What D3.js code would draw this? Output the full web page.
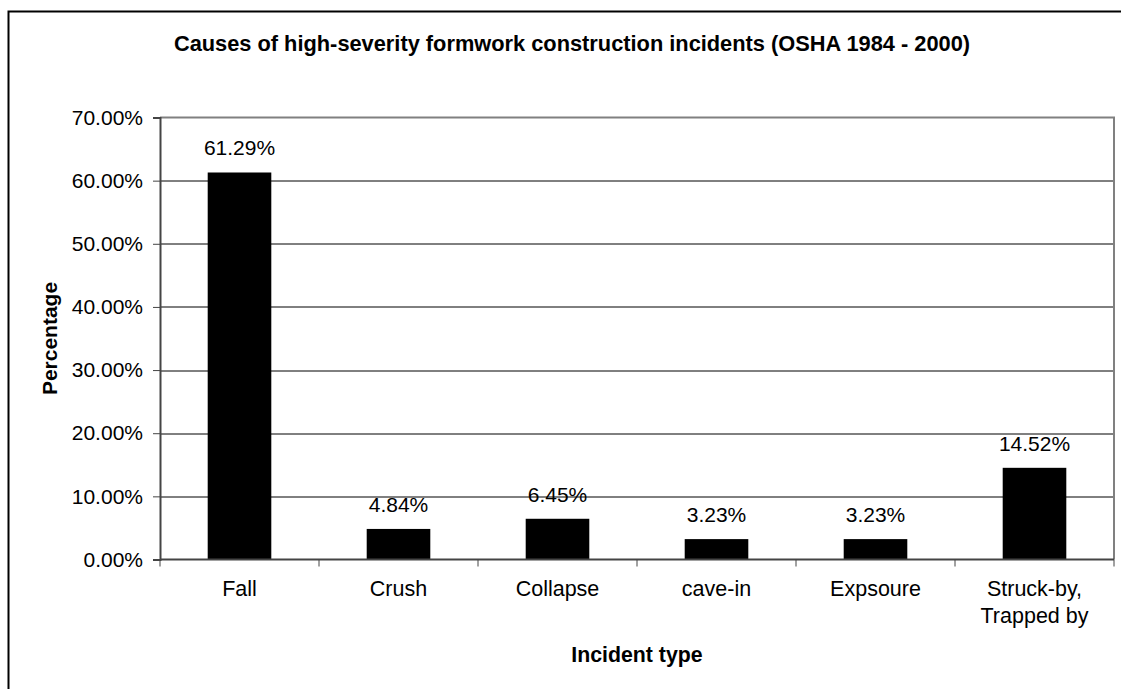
<!DOCTYPE html>
<html>
<head>
<meta charset="utf-8">
<script src="https://cdn.jsdelivr.net/npm/d3@7"></script>
<style>
  body { margin: 0; background: #fff; }
  svg text { font-family: "Liberation Sans", Arial, sans-serif; fill: #000; }
</style>
</head>
<body>
<div id="chart"></div>
<script>
(function () {

    const categories = ['Fall', 'Crush', 'Collapse', 'cave-in', 'Expsoure', 'Struck-by,\nTrapped by']
    const percentages = [61.29, 4.84, 6.45, 3.23, 3.23, 14.52]
    const yTicks = [0, 10, 20, 30, 40, 50, 60, 70]

    const width = 1121
    const height = 689
    const margin = { top: 117.5, right: 7, bottom: 129.5, left: 160 }
    const innerW = width - margin.left - margin.right
    const innerH = height - margin.top - margin.bottom

    const svg = d3.select('#chart')
        .append('svg')
        .attr('width', width)
        .attr('height', height)

    // chart area border (runs off the right and bottom edge)
    svg.append('rect')
        .attr('x', 8.5)
        .attr('y', 11.5)
        .attr('width', width + 20)
        .attr('height', height + 20)
        .attr('fill', 'none')
        .attr('stroke', '#000')
        .attr('stroke-width', 2)

    svg.append('text')
        .attr('x', 572)
        .attr('y', 51)
        .attr('text-anchor', 'middle')
        .style('font-size', '21.8px')
        .style('font-weight', 'bold')
        .text('Causes of high-severity formwork construction incidents (OSHA 1984 - 2000)')

    const g = svg.append('g')
        .attr('transform', `translate(${margin.left},${margin.top})`)

    const x = d3.scaleBand()
        .domain(categories)
        .range([0, innerW])
        .paddingInner(0.6)
        .paddingOuter(0.3)

    const y = d3.scaleLinear()
        .domain([0, 70])
        .range([innerH, 0])

    // gridlines
    g.append('g')
        .selectAll('line')
        .data(yTicks.slice(1, -1))
        .join('line')
        .attr('x1', 0)
        .attr('x2', innerW)
        .attr('y1', d => Math.round(y(d)) + 0.5)
        .attr('y2', d => Math.round(y(d)) + 0.5)
        .attr('stroke', '#000')
        .attr('stroke-width', 1)

    // plot border top / right
    g.append('path')
        .attr('d', `M0,0H${innerW}V${innerH}`)
        .attr('fill', 'none')
        .attr('stroke', '#808080')
        .attr('stroke-width', 2)

    g.append('g')
        .selectAll('rect')
        .data(percentages)
        .join('rect')
        .attr('x', (d, i) => x(categories[i]))
        .attr('width', x.bandwidth())
        .attr('y', d => y(d))
        .attr('height', d => innerH - y(d))
        .attr('fill', '#000')

    g.append('g')
        .selectAll('text')
        .data(percentages)
        .join('text')
        .attr('x', (d, i) => x(categories[i]) + x.bandwidth() / 2)
        .attr('y', d => y(d) - 17)
        .attr('text-anchor', 'middle')
        .style('font-size', '21px')
        .text(d => d.toFixed(2) + '%')

    // y axis
    const yAxis = g.append('g')
        .call(d3.axisLeft(y).tickValues(yTicks).tickSize(7).tickPadding(10)
            .tickFormat(d => d.toFixed(2) + '%'))
    yAxis.select('.domain').attr('stroke', '#444').attr('stroke-width', 2)
    yAxis.selectAll('.tick line').attr('stroke', '#444')
    yAxis.selectAll('.tick text').style('font-size', '21px').attr('fill', '#000')

    // x axis with ticks between categories
    const step = innerW / categories.length
    const xAxis = g.append('g').attr('transform', `translate(0,${innerH})`)
    xAxis.append('line')
        .attr('x1', 0).attr('x2', innerW)
        .attr('stroke', '#444').attr('stroke-width', 2)
    xAxis.selectAll('line.tk')
        .data(d3.range(categories.length + 1))
        .join('line')
        .attr('class', 'tk')
        .attr('x1', i => i * step).attr('x2', i => i * step)
        .attr('y1', 0).attr('y2', 7)
        .attr('stroke', '#444')

    xAxis.selectAll('text')
        .data(categories)
        .join('text')
        .attr('x', d => x(d) + x.bandwidth() / 2)
        .attr('y', 36)
        .attr('text-anchor', 'middle')
        .style('font-size', '21.5px')
        .each(function (d) {
            d.split('\n').forEach((line, i) => {
                d3.select(this).append('tspan')
                    .attr('x', x(d) + x.bandwidth() / 2)
                    .attr('dy', i === 0 ? 0 : 27)
                    .text(line)
            })
        })

    svg.append('text')
        .attr('x', margin.left + innerW / 2)
        .attr('y', 662)
        .attr('text-anchor', 'middle')
        .style('font-size', '21.3px')
        .style('font-weight', 'bold')
        .text('Incident type')

    svg.append('text')
        .attr('transform', `translate(57,${margin.top + innerH / 2}) rotate(-90)`)
        .attr('text-anchor', 'middle')
        .style('font-size', '21px')
        .style('font-weight', 'bold')
        .text('Percentage')

})();
</script>
</body>
</html>
